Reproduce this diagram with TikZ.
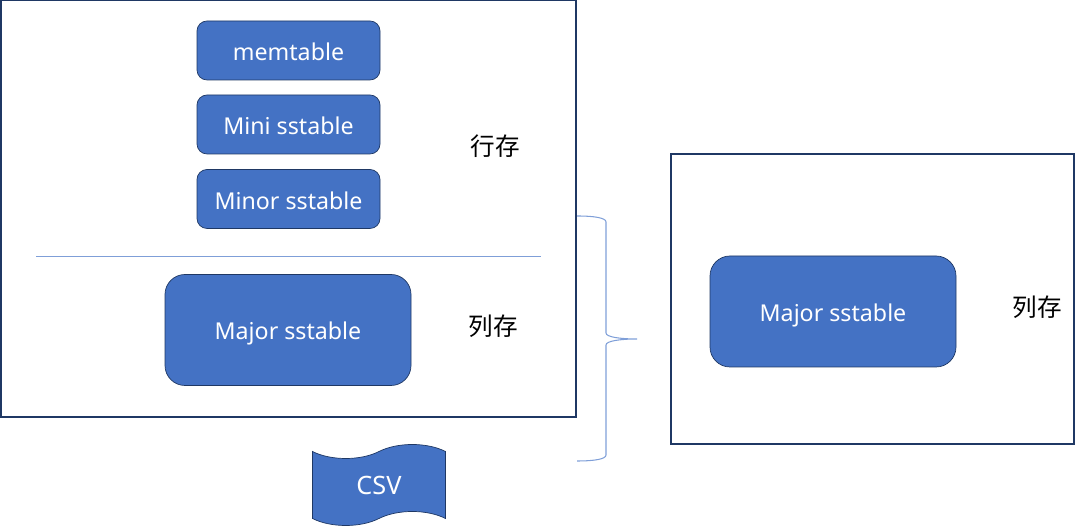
\documentclass[tikz,border=0pt]{standalone}
\usepackage{fontspec}
\setmainfont{Noto Sans}
\newfontfamily\cjk{Noto Sans CJK SC}
\usepackage{tikz}
\usetikzlibrary{positioning,shapes.symbols}
\definecolor{boxblue}{HTML}{4472C4}
\definecolor{edgeblue}{HTML}{1F3864}
\definecolor{lineblue}{HTML}{7F9FD8}
\tikzstyle{frame}=[draw=edgeblue, line width=0.65pt, minimum width=11.5cm, minimum height=8.34cm, inner sep=0pt]
\tikzstyle{frame2}=[draw=edgeblue, line width=0.65pt, minimum width=8.06cm, minimum height=5.8cm, inner sep=0pt]
\tikzstyle{int1}=[draw=edgeblue, fill=boxblue, text=white, rounded corners=0.2cm, minimum height=1.18cm, minimum width=3.66cm, inner sep=0pt, text height=0.42cm, text depth=0cm, font=\fontsize{13.2}{16}\selectfont]
\tikzstyle{int}=[draw=edgeblue, fill=boxblue, text=white, rounded corners=0.4cm, minimum height=2.22cm, minimum width=4.92cm, inner sep=0pt, text height=0.4cm, text depth=0cm, font=\fontsize{13.2}{16}\selectfont]
\tikzstyle{lab}=[font=\cjk\fontsize{14}{16}\selectfont, inner sep=0pt]

\begin{document}
\begin{tikzpicture}[node distance=2cm,auto,>=latex]
\useasboundingbox (0,0) rectangle (21.6,10.52);
\node[frame] at (5.77,6.35) (left) {};
\node[frame2] at (17.45,4.54) (right) {};

\node[int1] at (5.77,9.51) (mem) {memtable};
\node[int1, below of = mem, node distance = 1.48cm] (mini) {Mini sstable};
\node[int1, below of = mini, node distance = 1.49cm] (minor) {Minor sstable};
\node[int] at (5.76,3.92) (major) {Major sstable};
\node[int] at (16.66,4.29) (major2) {Major sstable};

\node[lab] at (9.9,7.6) (row) {行存};
\node[lab] at (9.86,4) (col) {列存};
\node[lab] at (20.74,4.38) (col2) {列存};

% divider
\coordinate (divl) at (0.72,5.4);
\coordinate (divr) at (10.82,5.4);
\draw[lineblue, line width=0.5pt] (divl) -- (divr);

\node[tape, draw=edgeblue, fill=boxblue, text=white, minimum width=2.66cm, minimum height=1.62cm, inner sep=0pt, tape bend top=in and out, tape bend bottom=in and out, tape bend height=0.28cm, font=\fontsize{14.4}{16}\selectfont] at (7.58,0.82) (csv) {CSV};

% brace
\coordinate (btop) at (11.54,6.2);
\coordinate (btip) at (12.74,3.74);
\coordinate (bbot) at (11.54,1.3);
\draw[lineblue, line width=0.6pt] (btop) .. controls (11.9,6.2) and (12.12,6.16) .. (12.12,6.08)
  -- (12.12,3.86) .. controls (12.12,3.78) and (12.4,3.74) .. (btip)
  .. controls (12.4,3.74) and (12.12,3.7) .. (12.12,3.62)
  -- (12.12,1.42) .. controls (12.12,1.34) and (11.9,1.3) .. (bbot);
\end{tikzpicture}
\end{document}
